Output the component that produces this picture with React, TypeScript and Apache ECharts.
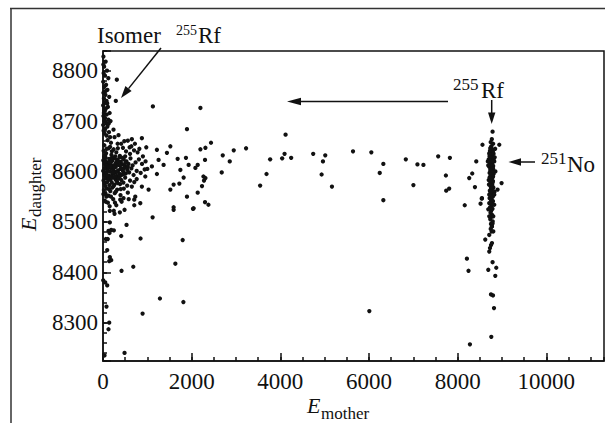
import React, { useEffect, useRef } from 'react';
import * as echarts from 'echarts';

// ---- axis setup ----
const xRange = [0, 11300];
const yRange = [8224, 8839];
const xMajor = 2000;
const xMinor = 500;
const yMajor = 100;
const yMinor = 20;

// ---- data: [E_mother, E_daughter] ----
const isomerColumn: [number, number][] = [
  [10, 8828], [60, 8818], [25, 8808], [90, 8800], [15, 8795], [45, 8790], [120, 8785], [5, 8778],
  [70, 8772], [30, 8768], [100, 8762], [10, 8756], [55, 8752], [140, 8748], [20, 8745], [80, 8740],
  [40, 8736], [5, 8731], [110, 8728], [60, 8724], [25, 8720], [150, 8716], [85, 8713], [10, 8710],
  [45, 8706], [120, 8703], [30, 8700], [70, 8696], [5, 8692], [100, 8689], [50, 8685], [15, 8681],
  [135, 8678], [35, 8675], [80, 8671], [160, 8668], [20, 8716], [65, 8760], [95, 8735], [170, 8700],
  [8, 8812], [130, 8695], [40, 8725], [312, 8782], [289, 8740], [237, 8683],
];

const leftCluster: [number, number][] = [
  [105, 8662], [260, 8668], [410, 8655], [560, 8661], [30, 8652], [180, 8657], [640, 8650], [350, 8672],
  [15, 8641], [70, 8636], [125, 8646], [190, 8633], [240, 8644], [300, 8638], [380, 8631], [450, 8647],
  [520, 8640], [610, 8635], [700, 8642], [48, 8632], [160, 8649], [275, 8630], [335, 8646], [780, 8638],
  [8, 8622], [40, 8615], [62, 8627], [95, 8618], [118, 8612], [140, 8625], [172, 8616], [205, 8621],
  [228, 8611], [255, 8626], [290, 8617], [318, 8623], [345, 8613], [372, 8628], [402, 8619], [430, 8614],
  [466, 8624], [495, 8611], [530, 8620], [575, 8615], [620, 8626], [668, 8612], [735, 8618], [810, 8624],
  [880, 8615], [25, 8629], [83, 8611], [150, 8619], [212, 8628], [268, 8613], [330, 8619], [388, 8612],
  [440, 8627], [505, 8617],
  [5, 8601], [28, 8594], [52, 8607], [78, 8598], [101, 8604], [133, 8592], [158, 8600], [182, 8606],
  [210, 8595], [236, 8603], [262, 8597], [287, 8609], [312, 8591], [340, 8602], [366, 8596], [395, 8605],
  [420, 8593], [452, 8600], [480, 8607], [515, 8596], [548, 8603], [590, 8598], [640, 8606], [690, 8593],
  [760, 8601], [850, 8597], [940, 8604], [45, 8591], [120, 8609], [195, 8590], [250, 8608], [300, 8599],
  [375, 8590], [470, 8595], [560, 8609],
  [12, 8582], [38, 8576], [66, 8587], [92, 8579], [115, 8585], [145, 8573], [170, 8583], [198, 8578],
  [225, 8588], [258, 8574], [283, 8584], [315, 8580], [350, 8586], [385, 8575], [415, 8583], [460, 8578],
  [500, 8588], [545, 8572], [610, 8582], [705, 8579], [55, 8571], [130, 8589], [240, 8571], [330, 8577],
  [20, 8563], [58, 8556], [88, 8566], [125, 8552], [165, 8561], [210, 8568], [265, 8557], [320, 8564],
  [395, 8553], [470, 8566], [560, 8558], [75, 8550], [180, 8550],
  [35, 8542], [110, 8538], [230, 8545], [300, 8533], [150, 8531],
  [651, 8664], [877, 8666], [976, 8648], [1216, 8643], [1442, 8637], [1254, 8623], [1367, 8613],
  [1103, 8610], [1216, 8595], [954, 8590], [877, 8570], [1028, 8564], [728, 8550], [841, 8537], [463, 8547],
  [80, 8645], [200, 8640], [330, 8655], [480, 8660], [720, 8655], [600, 8648], [820, 8645], [900, 8630],
  [960, 8620], [1000, 8605], [760, 8585], [650, 8570], [580, 8545], [420, 8540], [270, 8538], [60, 8540],
  [10, 8555], [400, 8565], [140, 8565], [290, 8560], [55, 8620], [180, 8625], [230, 8598], [355, 8620],
  [100, 8592], [165, 8610], [270, 8590], [425, 8605], [35, 8605], [500, 8630],
];

const scatterPoints: [number, number][] = [
  [1125, 8729], [2197, 8726], [1894, 8684], [1519, 8650], [1684, 8625], [1871, 8627], [1932, 8613],
  [2136, 8613], [2084, 8607], [1745, 8603], [1819, 8588], [1593, 8574], [1722, 8576], [1519, 8564],
  [2136, 8558], [1894, 8550], [1593, 8529], [2045, 8527],
  [2197, 8644], [2310, 8647], [2436, 8657], [2301, 8623], [2701, 8632], [2949, 8642], [3227, 8646],
  [2859, 8620], [2678, 8598], [2265, 8590], [2310, 8587], [2278, 8582], [2233, 8571], [2301, 8539],
  [2378, 8534], [4118, 8673], [3770, 8624], [4095, 8635], [4041, 8626], [4244, 8627], [3688, 8595],
  [3544, 8572], [4741, 8635], [5013, 8632], [4961, 8620], [4931, 8594], [5164, 8570], [5639, 8640],
  [6052, 8638], [6323, 8615], [6242, 8597], [6830, 8624], [7092, 8614], [7227, 8613], [7560, 8630],
  [7824, 8627], [7001, 8573], [6323, 8543], [7734, 8592], [7808, 8566], [7741, 8562], [8159, 8533],
  [8419, 8620], [8328, 8596], [8260, 8587], [8389, 8569], [8543, 8546], [8516, 8536],
  [8208, 8427], [8244, 8403], [8622, 8465], [8690, 8405], [8787, 8420], [8870, 8409], [8848, 8393],
  [8751, 8356], [8796, 8354], [8819, 8329], [8758, 8272], [8276, 8257], [6007, 8323],
  [705, 8533], [705, 8544], [389, 8544], [154, 8522], [260, 8516], [244, 8522], [380, 8519], [486, 8524],
  [1119, 8509], [1593, 8524], [2029, 8526], [531, 8494], [154, 8499], [124, 8482], [185, 8484],
  [244, 8483], [147, 8478], [411, 8472], [847, 8467], [1797, 8464], [63, 8466], [108, 8466], [95, 8444],
  [154, 8430], [185, 8424], [140, 8422], [418, 8403], [683, 8411], [1632, 8417], [5, 8384], [50, 8380],
  [95, 8374], [1284, 8348], [1813, 8341], [79, 8332], [893, 8318], [140, 8300], [124, 8287], [34, 8235],
  [486, 8240],
];

const rfColumn: [number, number][] = [
  [8787, 8679], [8770, 8664], [8745, 8658], [8800, 8655], [8760, 8650], [8735, 8646], [8790, 8643],
  [8755, 8640], [8720, 8637], [8810, 8635], [8770, 8632], [8740, 8629], [8785, 8626], [8700, 8624],
  [8760, 8622], [8825, 8620], [8730, 8618], [8775, 8616], [8750, 8613], [8800, 8611], [8715, 8609],
  [8765, 8607], [8740, 8604], [8790, 8602], [8755, 8600], [8720, 8597], [8810, 8595], [8770, 8593],
  [8735, 8590], [8785, 8588], [8750, 8585], [8700, 8583], [8795, 8581], [8760, 8578], [8730, 8575],
  [8780, 8573], [8745, 8570], [8805, 8568], [8765, 8565], [8725, 8562], [8790, 8560], [8755, 8557],
  [8740, 8553], [8775, 8550], [8720, 8547], [8760, 8544], [8795, 8541], [8745, 8537], [8770, 8533],
  [8730, 8529], [8785, 8526], [8755, 8522], [8740, 8518], [8775, 8514], [8760, 8510], [8735, 8505],
  [8790, 8501], [8750, 8496], [8770, 8491], [8745, 8486], [8765, 8481],
  [8748, 8648], [8778, 8644], [8728, 8641], [8798, 8638], [8758, 8634], [8718, 8630], [8788, 8628],
  [8748, 8625], [8808, 8623], [8738, 8621], [8778, 8619], [8728, 8614], [8768, 8611], [8798, 8606],
  [8738, 8602], [8778, 8598], [8748, 8594], [8798, 8590], [8768, 8586], [8718, 8588], [8758, 8582],
  [8788, 8578], [8738, 8580], [8768, 8572], [8752, 8566], [8782, 8563], [8738, 8560], [8768, 8555],
  [8792, 8550], [8748, 8546], [8712, 8635], [8835, 8628], [8690, 8612], [8850, 8600], [8705, 8574],
  [8830, 8560], [8680, 8620], [8845, 8645],
  [8559, 8653], [8938, 8653], [8990, 8577], [8900, 8564], [8547, 8547],
  [8712, 8441], [8728, 8448], [8751, 8454], [8773, 8458], [8712, 8474], [8803, 8481], [8773, 8491],
  [8787, 8497], [8712, 8511], [8803, 8511], [8751, 8524], [8690, 8525], [8787, 8534], [8712, 8537],
  [8825, 8534], [8751, 8544], [8773, 8550], [8712, 8554], [8825, 8554], [8751, 8560],
];

const FONT = 'Liberation Serif';
const FONT_STACK = '"Liberation Serif", "Times New Roman", serif';
const INK = '#111';

export default function App() {
  const ref = useRef<HTMLDivElement>(null);
  useEffect(() => {
    const chart = echarts.init(ref.current!, null, { renderer: 'svg' });
    const allPoints = [...isomerColumn, ...leftCluster, ...scatterPoints, ...rfColumn];
    const lineStyle = { stroke: INK, lineWidth: 1.5 };
    const txt = (x: number, y: number, text: string, size: number, extra: any = {}) => ({
      type: 'text', x, y,
      style: { text, fill: INK, font: `${size}px "${FONT}"`, align: 'left', verticalAlign: 'middle', ...extra },
    });
    const axisLabelStyle = {
      color: INK, fontFamily: FONT_STACK, fontSize: 23, fontStyle: 'normal', fontWeight: 'normal',
    };
    const option: any = {
      animation: false,
      backgroundColor: '#fff',
      textStyle: { fontFamily: FONT_STACK },
      grid: {
        left: 103, top: 51, right: 1, bottom: 62,
        show: true, borderColor: INK, borderWidth: 1.5, backgroundColor: 'transparent',
        containLabel: false, outerBoundsMode: 'none',
      },
      xAxis: [
        {
          type: 'value', min: xRange[0], max: xRange[1], interval: xMajor, position: 'bottom',
          axisLine: { show: true, lineStyle: { color: INK, width: 1.5 } },
          axisTick: { show: true, inside: true, length: 8, lineStyle: { color: INK, width: 1.5 } },
          axisLabel: {
            show: true, margin: 9, ...axisLabelStyle,
            formatter: (v: number) => (v % xMajor === 0 ? String(v) : ''),
            showMaxLabel: false,
          },
          splitLine: { show: false },
        },
        {
          type: 'value', min: xRange[0], max: xRange[1], interval: xMinor, position: 'bottom',
          axisLine: { show: false },
          axisTick: { show: true, inside: true, length: 4, lineStyle: { color: INK, width: 1.5 } },
          axisLabel: { show: false },
          splitLine: { show: false },
        },
      ],
      yAxis: [
        {
          type: 'value', min: yRange[0], max: yRange[1], minInterval: yMajor, maxInterval: yMajor, position: 'left',
          axisLine: { show: true, lineStyle: { color: INK, width: 1.5 } },
          axisTick: { show: true, inside: true, length: 8, lineStyle: { color: INK, width: 1.5 } },
          axisLabel: {
            show: true, margin: 5, ...axisLabelStyle,
            formatter: (v: number) => (Math.abs(v % yMajor) < 1e-6 ? String(v) : ''),
          },
          splitLine: { show: false },
        },
        {
          type: 'value', min: yRange[0], max: yRange[1], minInterval: yMinor, maxInterval: yMinor, position: 'left',
          axisLine: { show: false },
          axisTick: { show: true, inside: true, length: 4, lineStyle: { color: INK, width: 1.5 } },
          axisLabel: { show: false },
          splitLine: { show: false },
        },
      ],
      series: [
        {
          type: 'scatter', xAxisIndex: 0, yAxisIndex: 0, data: allPoints,
          symbol: 'circle', symbolSize: 4.3, clip: false,
          itemStyle: { color: INK, opacity: 1 },
        },
      ],
      graphic: [
        // outer frame lines
        { type: 'line', shape: { x1: 10, y1: 8.5, x2: 605, y2: 8.5 }, style: { stroke: '#333', lineWidth: 1.5 } },
        { type: 'line', shape: { x1: 11, y1: 8.5, x2: 11, y2: 423 }, style: { stroke: '#333', lineWidth: 1.5 } },
        // x axis name
        txt(307, 405, 'E', 22, { font: `italic 22px "${FONT}"` }),
        txt(321, 413, 'mother', 17),
        // y axis name (rotated)
        {
          type: 'group', x: 35, y: 231, rotation: Math.PI / 2,
          children: [
            txt(0, -7, 'E', 22, { font: `italic 22px "${FONT}"` }),
            txt(14, 0, 'daughter', 17),
          ],
        },
        // Isomer annotation
        txt(97, 35, 'Isomer', 23),
        txt(176, 30, '255', 14),
        txt(198, 35, 'Rf', 23),
        { type: 'line', shape: { x1: 161, y1: 48, x2: 128.5, y2: 88.6 }, style: lineStyle },
        { type: 'polygon', shape: { points: [[121, 98], [131.6, 91.1], [125.4, 86.1]] }, style: { fill: INK } },
        // long arrow
        { type: 'line', shape: { x1: 448, y1: 101.5, x2: 299, y2: 101.5 }, style: lineStyle },
        { type: 'polygon', shape: { points: [[287, 101.5], [301, 97.7], [301, 105.3]] }, style: { fill: INK } },
        // 255Rf label and arrow
        txt(453, 84, '255', 17),
        txt(481, 90, 'Rf', 23),
        { type: 'line', shape: { x1: 491.7, y1: 100, x2: 491.7, y2: 114 }, style: lineStyle },
        { type: 'polygon', shape: { points: [[491.7, 124], [488, 112.5], [495.4, 112.5]] }, style: { fill: INK } },
        // 251No label and arrow
        { type: 'line', shape: { x1: 535, y1: 162, x2: 520, y2: 162 }, style: lineStyle },
        { type: 'polygon', shape: { points: [[508.5, 162], [521, 158.3], [521, 165.7]] }, style: { fill: INK } },
        txt(541, 158, '251', 17),
        txt(567, 164, 'No', 23),
      ],
    };
    chart.setOption(option);
    return () => chart.dispose();
  }, []);
  return (
    <div
      ref={ref}
      style={{ position: 'fixed', left: 0, top: 0, width: 605, height: 423, background: '#fff' }}
    />
  );
}
